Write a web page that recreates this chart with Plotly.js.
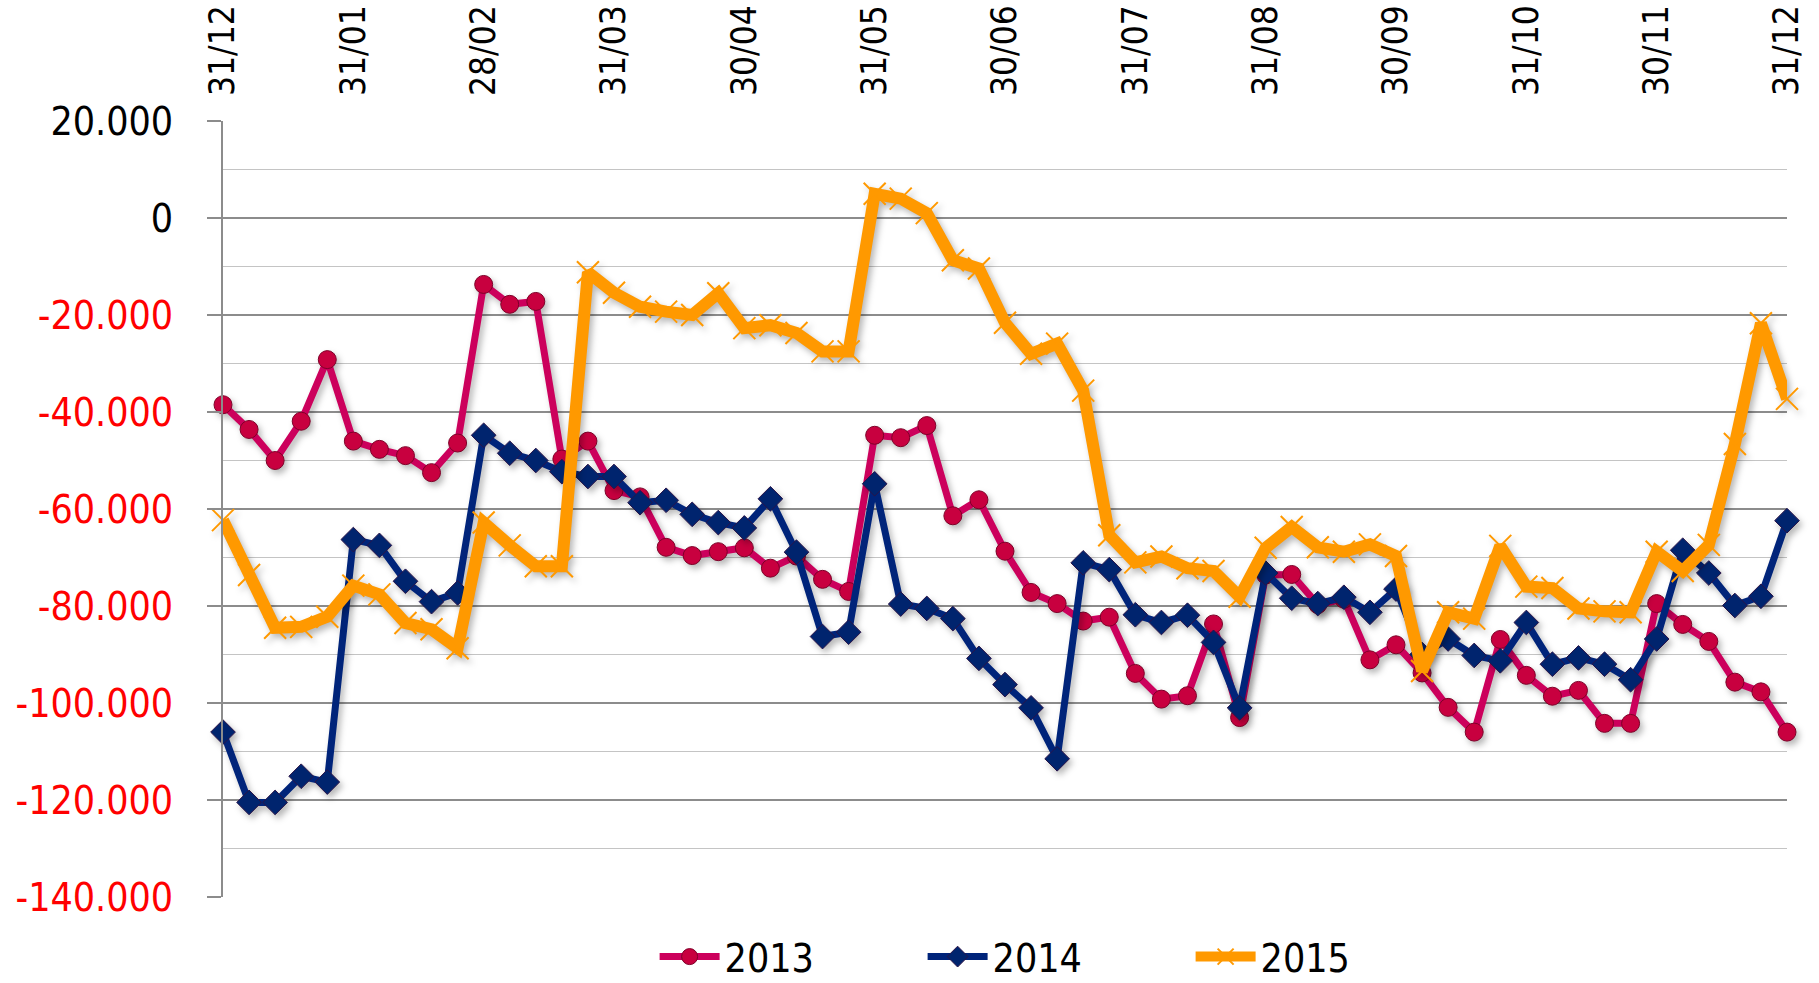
<!DOCTYPE html>
<html>
<head>
<meta charset="utf-8">
<script src="https://cdn.plot.ly/plotly-3.0.1.min.js"></script>
<style>
  html, body { margin: 0; padding: 0; background: #ffffff; }
  #chart { width: 1819px; height: 983px; }
  #chart .scatterlayer g.trace { filter: drop-shadow(3px 4px 3px rgba(0,0,0,0.28)); }
</style>
</head>
<body>
<div id="chart"></div>
<script>
// ---- data ----
const seriesNames = ['2013', '2014', '2015'];

const values2013 = [
  -38500, -43600, -50000, -41900, -29200, -46000, -47700, -49000, -52500, -46400,
  -13700, -17800, -17200, -49700, -46000, -56200, -57500, -67900, -69600, -68800,
  -68000, -72200, -69700, -74500, -77000, -44800, -45300, -42800, -61400, -58100,
  -68700, -77200, -79500, -83100, -82300, -93900, -99200, -98500, -83700, -103000,
  -73600, -73500, -79700, -78600, -91100, -88000, -93800, -100900, -106000, -86900,
  -94300, -98600, -97400, -104200, -104200, -79500, -83800, -87300, -95700, -97700,
  -106000
];

const values2014 = [
  -106000, -120500, -120500, -115100, -116300, -66300, -67500, -74900, -79100, -77300,
  -44800, -48500, -50000, -52300, -53300, -53300, -58700, -58200, -61100, -62800,
  -63900, -57900, -68900, -86300, -85400, -54800, -79600, -80500, -82600, -90800,
  -96200, -101000, -111500, -71100, -72500, -81800, -83400, -81900, -87500, -101000,
  -73200, -78400, -79500, -78200, -81300, -76500, -90000, -86800, -90200, -91300,
  -83400, -92000, -90700, -92000, -95200, -86800, -68500, -73200, -79900, -78000,
  -62400
];

const values2015 = [
  -62300, -73600, -84500, -84300, -82200, -75800, -77600, -83500, -84800, -88700,
  -62800, -67500, -71800, -71800, -11200, -15400, -18300, -19300, -20000, -15500,
  -22700, -22100, -23700, -27500, -27500, 5000, 4000, 1000, -8700, -10400,
  -21600, -28000, -25900, -35600, -65400, -71000, -69800, -72200, -72800, -78100,
  -68000, -63700, -67900, -68800, -67300, -69700, -93400, -81300, -82600, -67600,
  -76000, -76300, -80500, -81100, -81300, -68800, -72800, -67400, -46600, -21700,
  -37300
];

const xTickLabels = ['31/12', '31/01', '28/02', '31/03', '30/04', '31/05', '30/06',
                     '31/07', '31/08', '30/09', '31/10', '30/11', '31/12'];
const yTickValues = [20000, 0, -20000, -40000, -60000, -80000, -100000, -120000, -140000];
const yTickLabels = ['20.000', '0', '-20.000', '-40.000', '-60.000', '-80.000', '-100.000', '-120.000', '-140.000'];

// ---- build ----
const n = values2013.length;
const xIdx = Array.from({length: n}, (_, i) => i);
const step = (n - 1) / (xTickLabels.length - 1);
const xTickVals = xTickLabels.map((_, k) => k * step);

const yTickText = yTickValues.map((v, k) =>
  v < 0 ? '<span style="color:#ff0000">' + yTickLabels[k] + '</span>' : yTickLabels[k]);
const minorVals = [];
for (let k = 0; k < yTickValues.length - 1; k++) {
  minorVals.push((yTickValues[k] + yTickValues[k + 1]) / 2);
}

const FONT = '"DejaVu Sans Condensed", "Liberation Sans Narrow", sans-serif';

const traces = [
  {
    x: xIdx, y: values2013, name: seriesNames[0], type: 'scatter', mode: 'lines+markers',
    line: {color: '#cc005c', width: 7},
    marker: {symbol: 'circle', size: 18, color: '#c8003f', line: {color: '#7d0028', width: 1}},
    cliponaxis: false
  },
  {
    x: xIdx, y: values2014, name: seriesNames[1], type: 'scatter', mode: 'lines+markers',
    line: {color: '#00247a', width: 7},
    marker: {symbol: 'diamond', size: 19, color: '#00246e', line: {color: '#2a1448', width: 1}},
    cliponaxis: false
  },
  {
    x: xIdx, y: values2015, name: seriesNames[2], type: 'scatter', mode: 'lines+markers',
    line: {color: '#ff9900', width: 12},
    marker: {symbol: 'x-thin', size: 22, color: '#ff9900', line: {color: '#ff9900', width: 2}},
    cliponaxis: false
  }
];

const layout = {
  width: 1819, height: 983,
  margin: {l: 223, r: 32, t: 121, b: 86, autoexpand: false},
  paper_bgcolor: '#ffffff', plot_bgcolor: '#ffffff',
  font: {family: FONT, color: '#000000', size: 36},
  showlegend: true,
  legend: {
    orientation: 'h', x: 0.533, xanchor: 'center', y: -0.077, yanchor: 'middle',
    font: {family: FONT, size: 39, color: '#000000'},
    entrywidth: 193, entrywidthmode: 'pixels', itemwidth: 60,
    bgcolor: 'rgba(0,0,0,0)'
  },
  xaxis: {
    type: 'linear', range: [0, n - 1], side: 'top',
    tickmode: 'array', tickvals: xTickVals, ticktext: xTickLabels,
    tickangle: -90, tickfont: {family: FONT, size: 35, color: '#000000'},
    ticks: '', ticklabelstandoff: 24,
    showgrid: false, zeroline: false, showline: false, fixedrange: true
  },
  yaxis: {
    range: [-140000, 20000],
    tickmode: 'array', tickvals: yTickValues, ticktext: yTickText,
    tickfont: {family: FONT, size: 39, color: '#000000'},
    ticks: 'outside', ticklen: 14, tickwidth: 2, tickcolor: '#8c8c8c',
    ticklabelstandoff: 26,
    showgrid: true, gridcolor: '#8c8c8c', gridwidth: 2,
    minor: {tickvals: minorVals, showgrid: true, gridcolor: '#c4c4c4', gridwidth: 1.5, ticks: ''},
    zeroline: false, showline: true, linecolor: '#8c8c8c', linewidth: 2,
    fixedrange: true
  }
};

Plotly.newPlot('chart', traces, layout, {displayModeBar: false, staticPlot: true});
</script>
</body>
</html>
